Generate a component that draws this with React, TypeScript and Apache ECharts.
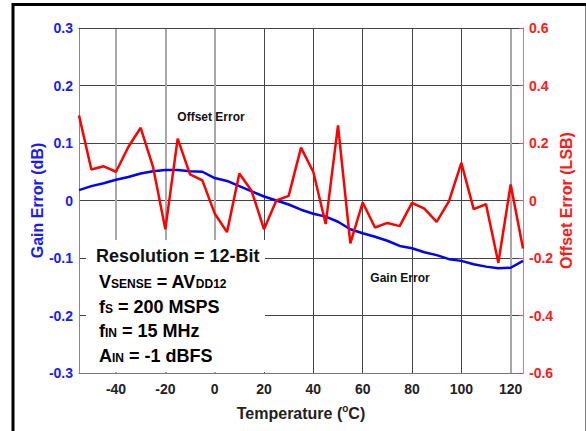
import React, { useEffect, useRef } from "react";
import * as echarts from "echarts";

const temps = [-55, -50, -45, -40, -35, -30, -25, -20, -15, -10, -5, 0, 5, 10, 15, 20, 25, 30, 35, 40, 45, 50, 55, 60, 65, 70, 75, 80, 85, 90, 95, 100, 105, 110, 115, 120, 125];
const offsetError = [0.296, 0.108, 0.119, 0.1, 0.186, 0.253, 0.117, -0.1, 0.215, 0.091, 0.07, -0.045, -0.11, 0.094, 0.033, -0.1, 0.0, 0.016, 0.184, 0.099, -0.082, 0.261, -0.149, -0.007, -0.094, -0.078, -0.089, -0.008, -0.028, -0.074, -0.002, 0.131, -0.03, -0.013, -0.217, 0.056, -0.167];
const gainError = [0.018, 0.025, 0.03, 0.036, 0.041, 0.047, 0.051, 0.053, 0.053, 0.051, 0.05, 0.039, 0.034, 0.025, 0.016, 0.007, 0.0, -0.007, -0.016, -0.023, -0.028, -0.037, -0.05, -0.057, -0.063, -0.07, -0.079, -0.083, -0.09, -0.095, -0.102, -0.105, -0.111, -0.115, -0.118, -0.117, -0.105];
const xTickLabels = [-40, -20, 0, 20, 40, 60, 80, 100, 120];
const xDarkLines = [20, 40, 60, 80, 100];
const xGrayLines = [-40, -20, 0, 120];

const FONT = "Liberation Sans, Arial, sans-serif";

const subRich = {
  b: { fontFamily: FONT, fontWeight: "bold", fontSize: 18, color: "#111" },
  s: { fontFamily: FONT, fontWeight: "bold", fontSize: 12, color: "#111", padding: [4, 0, 0, 0] },
};

export default function App() {
  const ref = useRef<HTMLDivElement>(null);
  useEffect(() => {
    if (!ref.current) return;
    const chart = echarts.init(ref.current, null, { renderer: "svg" });
    const fmt = (v: number) => {
      const r = Math.round(v * 10) / 10;
      return r === 0 ? "0" : r.toFixed(1);
    };
    const option: any = {
      animation: false,
      backgroundColor: "#fff",
      textStyle: { fontFamily: FONT },
      grid: { left: 79, right: 63, top: 28, bottom: 58, outerBoundsMode: "none" },
      xAxis: [
        {
          type: "value",
          min: -55,
          max: 125,
          name: "Temperature ({sup|o}C)",
          nameLocation: "middle",
          nameGap: 30,
          nameMoveOverlap: false,
          nameTextStyle: {
            fontFamily: FONT,
            fontWeight: "bold",
            fontSize: 16,
            color: "#222",
            rich: {
              sup: { fontFamily: FONT, fontWeight: "bold", fontSize: 10, color: "#222", verticalAlign: "top", padding: [0, 0, 10, 0] },
            },
          },
          axisLine: { show: true, onZero: false, lineStyle: { color: "#777", width: 1 } },
          axisTick: { show: false, customValues: xDarkLines },
          axisLabel: { customValues: xTickLabels, color: "#222", fontWeight: "bold", fontSize: 14, fontFamily: FONT, margin: 9 },
          splitLine: { show: true, lineStyle: { color: "#444", width: 1 } },
        },
        {
          type: "value",
          min: -55,
          max: 125,
          position: "top",
          axisLine: { show: true, onZero: false, lineStyle: { color: "#444", width: 1 } },
          axisTick: { show: false, customValues: xGrayLines },
          axisLabel: { show: false },
          splitLine: { show: true, lineStyle: { color: "#a8a8a8", width: 2 } },
        },
      ],
      yAxis: [
        {
          type: "value",
          min: -0.3,
          max: 0.3,
          interval: 0.1,
          name: "Gain Error (dB)",
          nameLocation: "middle",
          nameGap: 34,
          nameMoveOverlap: false,
          nameTextStyle: { color: "#1a1aff", fontWeight: "bold", fontSize: 16, fontFamily: FONT },
          axisLine: { show: true, onZero: false, lineStyle: { color: "#6f7dff", width: 1 } },
          axisTick: { show: false },
          axisLabel: { color: "#1a1aff", fontWeight: "bold", fontSize: 14, fontFamily: FONT, margin: 6, formatter: fmt },
          splitLine: { show: true, lineStyle: { color: "#444", width: 1 } },
        },
        {
          type: "value",
          min: -0.6,
          max: 0.6,
          interval: 0.2,
          name: "Offset Error (LSB)",
          nameLocation: "middle",
          nameGap: 35,
          nameMoveOverlap: false,
          nameTextStyle: { color: "#ff1a1a", fontWeight: "bold", fontSize: 16, fontFamily: FONT },
          axisLine: { show: true, onZero: false, lineStyle: { color: "#ff6a6a", width: 1 } },
          axisTick: { show: true, inside: true, length: 4, lineStyle: { color: "#ff4040" } },
          axisLabel: { color: "#ff1a1a", fontWeight: "bold", fontSize: 14, fontFamily: FONT, margin: 6, formatter: fmt },
          splitLine: { show: false },
        },
      ],
      series: [
        {
          name: "Gain Error",
          type: "line",
          xAxisIndex: 0,
          yAxisIndex: 0,
          data: temps.map((t, i) => [t, gainError[i]]),
          showSymbol: false,
          lineStyle: { color: "#0000ff", width: 2.5 },
          z: 3,
        },
        {
          name: "Offset Error",
          type: "line",
          xAxisIndex: 0,
          yAxisIndex: 1,
          data: temps.map((t, i) => [t, offsetError[i]]),
          showSymbol: false,
          lineStyle: { color: "#ff0000", width: 2.5 },
          z: 4,
        },
      ],
      graphic: [
        {
          type: "rect",
          z: 100,
          silent: true,
          shape: { x: 13, y: 4.5, width: 574, height: 440 },
          style: { fill: "none", stroke: "#000", lineWidth: 3 },
        },
        {
          type: "rect",
          z: 1,
          silent: true,
          shape: { x: 86, y: 240, width: 179, height: 132 },
          style: { fill: "#fff" },
        },
        {
          type: "text",
          z: 5,
          x: 211,
          y: 117,
          style: { text: "Offset Error", fontFamily: FONT, fontWeight: "bold", fontSize: 12, fill: "#111", align: "center", verticalAlign: "middle" },
        },
        {
          type: "text",
          z: 5,
          x: 400,
          y: 278,
          style: { text: "Gain Error", fontFamily: FONT, fontWeight: "bold", fontSize: 12, fill: "#111", align: "center", verticalAlign: "middle" },
        },
        {
          type: "text",
          z: 5,
          x: 96,
          y: 256,
          style: { text: "Resolution = 12-Bit", fontFamily: FONT, fontWeight: "bold", fontSize: 18, fill: "#111", align: "left", verticalAlign: "middle" },
        },
        {
          type: "text",
          z: 5,
          x: 99,
          y: 282,
          style: { text: "{b|V}{s|SENSE}{b| = AV}{s|DD12}", align: "left", verticalAlign: "middle", rich: subRich },
        },
        {
          type: "text",
          z: 5,
          x: 99,
          y: 307,
          style: { text: "{b|f}{s|S}{b| = 200 MSPS}", align: "left", verticalAlign: "middle", rich: subRich },
        },
        {
          type: "text",
          z: 5,
          x: 99,
          y: 331,
          style: { text: "{b|f}{s|IN}{b| = 15 MHz}", align: "left", verticalAlign: "middle", rich: subRich },
        },
        {
          type: "text",
          z: 5,
          x: 99,
          y: 356,
          style: { text: "{b|A}{s|IN}{b| = -1 dBFS}", align: "left", verticalAlign: "middle", rich: subRich },
        },
      ],
    };
    chart.setOption(option);
    return () => chart.dispose();
  }, []);
  return <div ref={ref} style={{ position: "absolute", left: 0, top: 0, width: 586, height: 431 }} />;
}
